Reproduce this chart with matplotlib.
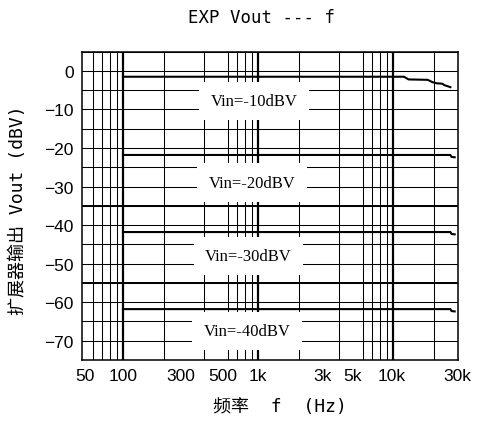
import matplotlib
matplotlib.use("Agg")
import matplotlib.pyplot as plt
from matplotlib.transforms import ScaledTranslation
from matplotlib.ticker import FixedLocator, LogLocator, MultipleLocator, NullFormatter

# expander output level vs frequency, one curve per input level
freq_m10 = [100, 12000, 13000, 18000, 19500, 21000, 23000, 24000, 26500]
vout_m10 = [-1.5, -1.5, -2.2, -2.3, -2.9, -3.2, -3.3, -3.7, -4.2]
freq_m20 = [100, 26500, 27000, 28500]
vout_m20 = [-21.8, -21.8, -22.3, -22.4]
freq_m30 = [100, 26500, 27000, 28500]
vout_m30 = [-41.8, -41.8, -42.3, -42.4]
freq_m40 = [100, 26500, 27000, 28500]
vout_m40 = [-61.8, -61.8, -62.3, -62.4]

vin_labels = ["Vin=-10dBV", "Vin=-20dBV", "Vin=-30dBV", "Vin=-40dBV"]

freq_ticks = [50, 100, 300, 500, 1000, 3000, 5000, 10000, 30000]
freq_tick_labels = ["50", "100", "300", "500", "1k", "3k", "5k", "10k", "30k"]
vout_ticks = [0, -10, -20, -30, -40, -50, -60, -70]

mono_cjk = ["DejaVu Sans Mono", "Noto Sans CJK SC"]

fig = plt.figure(figsize=(4.79, 4.27), dpi=100)
ax = fig.add_axes([0.1718, 0.1546, 0.7837, 0.722])

ax.set_xscale("log")
ax.set_xlim(50, 30000)
ax.set_ylim(-75, 5)

# grid: every 5 dB, 2..9 within each decade, heavier decade lines
ax.xaxis.set_major_locator(FixedLocator(freq_ticks))
ax.xaxis.set_minor_locator(LogLocator(base=10, subs=range(2, 10)))
ax.xaxis.set_minor_formatter(NullFormatter())
ax.set_xticklabels(freq_tick_labels)
ax.yaxis.set_major_locator(FixedLocator(vout_ticks))
ax.yaxis.set_minor_locator(MultipleLocator(5))

ax.grid(True, axis="x", which="minor", color="black", lw=0.75, zorder=1)
ax.grid(True, axis="y", which="both", color="black", lw=0.75, zorder=1)
for f in [100, 1000, 10000]:
    ax.axvline(f, color="black", lw=1.6, zorder=1)
for v in [-35, -55]:
    ax.axhline(v, color="black", lw=1.4, zorder=1)

for fr, vo in [(freq_m10, vout_m10), (freq_m20, vout_m20),
               (freq_m30, vout_m30), (freq_m40, vout_m40)]:
    ax.plot(fr, vo, color="black", lw=1.5, zorder=3)

label_pos = [(930, -7.8), (900, -29.0), (850, -48.0), (830, -67.5)]
for txt, (lx, ly) in zip(vin_labels, label_pos):
    ax.text(lx, ly, txt, ha="center", va="center", fontsize=12,
            family="Liberation Serif", zorder=4,
            bbox=dict(boxstyle="square,pad=0.68", fc="white", ec="none"))

ax.tick_params(which="both", length=0, pad=6)
for lab in ax.get_xticklabels() + ax.get_yticklabels():
    lab.set_family("Liberation Sans")
    lab.set_fontsize(12.5)

# spread the crowded labels a little
nudge = {"50": 3, "300": -7, "500": 5, "10k": -2}
for lab in ax.get_xticklabels():
    dx = nudge.get(lab.get_text(), 0)
    if dx:
        lab.set_transform(lab.get_transform() + ScaledTranslation(dx / 100, 0, fig.dpi_scale_trans))

for sp in ax.spines.values():
    sp.set_linewidth(1.1)
    sp.set_zorder(5)

fig.text(262 / 479, 1 - 18 / 427, "EXP Vout --- f", ha="center", va="center",
         fontsize=12.5, family=mono_cjk)
ax.set_xlabel("频率  f  (Hz)", fontsize=13, family=mono_cjk, va="center")
ax.xaxis.set_label_coords(0.527, -0.149)
ax.set_ylabel("扩展器输出 Vout (dBV)", fontsize=13, family=mono_cjk, va="center")
ax.yaxis.set_label_coords(-0.171, 0.49)

fig.savefig("out.png", dpi=100)
